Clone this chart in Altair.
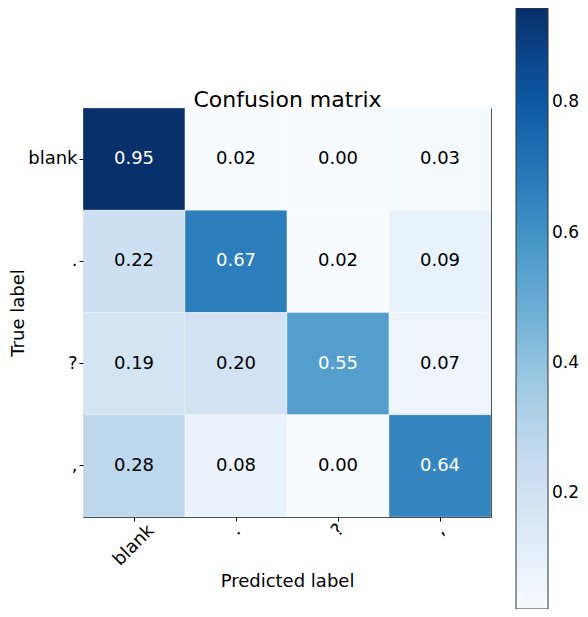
import altair as alt
import pandas as pd

labels = ["blank", ".", "?", ","]
row_blank = [0.95, 0.02, 0.00, 0.03]
row_dot = [0.22, 0.67, 0.02, 0.09]
row_q = [0.19, 0.20, 0.55, 0.07]
row_comma = [0.28, 0.08, 0.00, 0.64]
rows = [row_blank, row_dot, row_q, row_comma]
legend_ticks = [0.2, 0.4, 0.6, 0.8]
color_lo, color_hi = 0.022, 0.945
blues = ["#f7fbff", "#deebf7", "#c6dbef", "#9ecae1", "#6baed6",
         "#4292c6", "#2171b5", "#08519c", "#08306b"]

recs = []
for t, r in zip(labels, rows):
    for p, v in zip(labels, r):
        recs.append({"true": t, "pred": p, "value": v})
df = pd.DataFrame(recs)
vmax = max(max(r) for r in rows)
thresh = vmax / 2.0
n = len(blues) - 1
color_domain = [color_lo + i * (color_hi - color_lo) / n for i in range(n + 1)]

FONT = "DejaVu Sans"
FS = 18

x = alt.X("pred:N", sort=labels, title="Predicted label",
          scale=alt.Scale(paddingInner=0, paddingOuter=0),
          axis=alt.Axis(labelAngle=-45, labelAlign="center", labelBaseline="middle",
                        labelPadding={"condition": {"test": "datum.value === 'blank'", "value": 24},
                                      "value": 9},
                        labelFontSize=FS, titleFontSize=FS,
                        tickSize=4, domain=False, titlePadding=4,
                        labelFont=FONT, titleFont=FONT, labelColor="black",
                        titleColor="black", tickColor="black", titleFontWeight="normal"))
y = alt.Y("true:N", sort=labels, title="True label",
          scale=alt.Scale(paddingInner=0, paddingOuter=0),
          axis=alt.Axis(labelFontSize=FS, titleFontSize=FS, labelPadding=2,
                        tickSize=4, domain=False, titlePadding=0,
                        labelFont=FONT, titleFont=FONT, labelColor="black",
                        titleColor="black", tickColor="black", titleFontWeight="normal"))

rect = alt.Chart(df).mark_rect(stroke="white", strokeOpacity=0.3, strokeWidth=1).encode(
    x=x, y=y,
    color=alt.Color("value:Q",
                    scale=alt.Scale(domain=color_domain, range=blues, clamp=True),
                    legend=alt.Legend(title=None, orient="none", legendX=433, legendY=-100,
                                      direction="vertical", gradientLength=601,
                                      gradientThickness=32, values=legend_ticks,
                                      format=".1f", labelFontSize=17, labelFont=FONT,
                                      labelColor="black", labelOffset=4,
                                      gradientStrokeColor="#333", gradientStrokeWidth=1)),
)

text = alt.Chart(df).mark_text(fontSize=FS, font=FONT).encode(
    x=alt.X("pred:N", sort=labels, title="Confusion matrix",
            axis=alt.Axis(orient="top", labels=False, ticks=False, domain=False,
                          titleFontSize=22, titleFont=FONT, titleColor="black",
                          titleFontWeight="normal", titleBaseline="alphabetic",
                          titlePadding=2)),
    y=alt.Y("true:N", sort=labels),
    text=alt.Text("value:Q", format=".2f"),
    color=alt.condition(alt.datum.value > thresh, alt.value("white"), alt.value("black")),
)

chart = (rect + text).resolve_axis(x="independent").properties(
    width=408, height=409,
    autosize=alt.AutoSizeParams(type="none"),
    padding={"left": 75, "top": 100, "right": 89, "bottom": 92},
).configure_view(stroke="#333", strokeWidth=1)

chart.save("out.html", embed_options={"renderer": "svg", "actions": False})
